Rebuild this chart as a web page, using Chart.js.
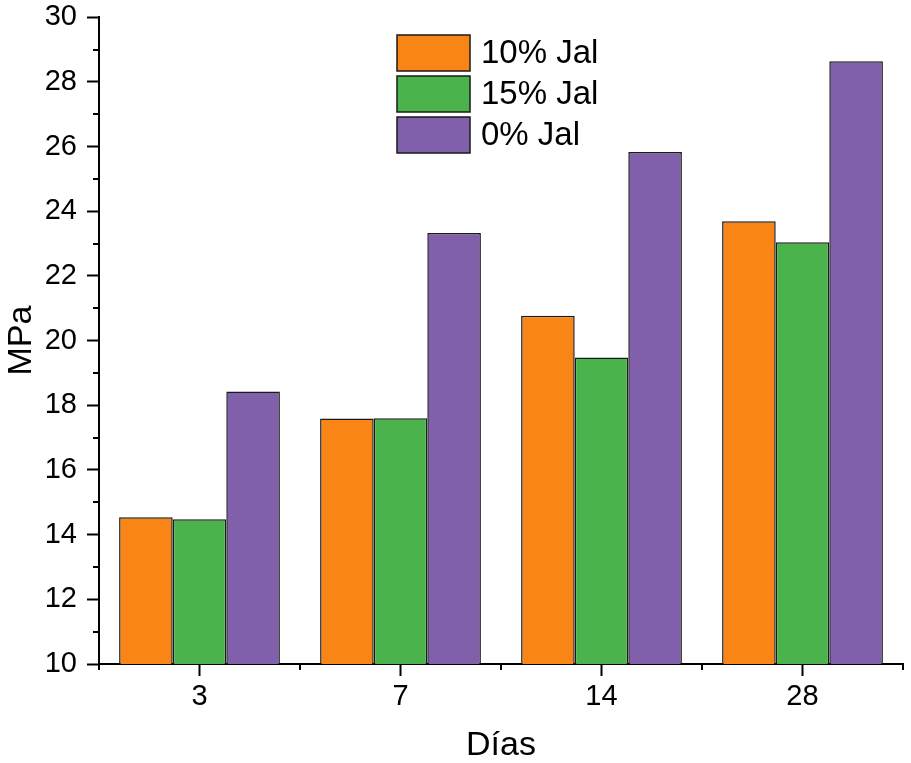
<!DOCTYPE html>
<html>
<head>
<meta charset="utf-8">
<script src="https://cdn.jsdelivr.net/npm/chart.js@4/dist/chart.umd.min.js"></script>
<style>
  html, body { margin: 0; padding: 0; background: #fff; }
  #wrap { width: 911px; height: 763px; }
</style>
</head>
<body>
<div id="wrap"><canvas id="mpaChart"></canvas></div>
<script>
// Data
const dias = ['3', '7', '14', '28'];
const jal10 = [14.54, 17.59, 20.77, 23.69];
const jal15 = [14.48, 17.60, 19.48, 23.04];
const jal0 = [18.43, 23.33, 25.83, 28.64];
const yTicks = [10, 12, 14, 16, 18, 20, 22, 24, 26, 28, 30];

const fontFam = "'Liberation Sans', Arial, sans-serif";

// minor ticks on both axes (odd values on y, group edges on x)
const minorTicks = {
    id: 'minorTicks',
    afterDraw(chart) {
        const ctx = chart.ctx;
        const x = chart.scales.x;
        const y = chart.scales.y;
        ctx.save();
        ctx.strokeStyle = '#000';
        ctx.lineWidth = 2;
        ctx.beginPath();
        for (let v = yTicks[0] + 1; v < yTicks[yTicks.length - 1]; v += 2) {
            const py = Math.round(y.getPixelForValue(v));
            ctx.moveTo(x.left - 6, py);
            ctx.lineTo(x.left, py);
        }
        const n = dias.length;
        const step = (x.right - x.left) / n;
        for (let i = 0; i <= n; i++) {
            const px = Math.round(x.left + i * step);
            ctx.moveTo(px, y.bottom);
            ctx.lineTo(px, y.bottom + 6);
        }
        ctx.stroke();
        ctx.restore();
    }
};

// legend drawn inside the plot area
const boxLegend = {
    id: 'boxLegend',
    afterDraw(chart) {
        const ctx = chart.ctx;
        ctx.save();
        ctx.font = '33px ' + fontFam;
        ctx.textBaseline = 'middle';
        chart.data.datasets.forEach((ds, i) => {
            const top = 35 + i * 41;
            ctx.fillStyle = ds.backgroundColor;
            ctx.fillRect(397, top, 73, 36);
            ctx.strokeStyle = '#1a1a1a';
            ctx.lineWidth = 1.5;
            ctx.strokeRect(397, top, 73, 36);
            ctx.fillStyle = '#000';
            ctx.fillText(ds.label, 481, top + 19);
        });
        ctx.restore();
    }
};

const ctx = document.getElementById('mpaChart').getContext('2d');
const chart = new Chart(ctx, {
    type: 'bar',
    data: {
        labels: dias,
        datasets: [{
            label: '10% Jal',
            data: jal10,
            backgroundColor: '#F98517',
            borderColor: '#1a1a1a',
            borderWidth: 1.5,
        }, {
            label: '15% Jal',
            data: jal15,
            backgroundColor: '#4BB34B',
            borderColor: '#1a1a1a',
            borderWidth: 1.5,
        }, {
            label: '0% Jal',
            data: jal0,
            backgroundColor: '#8060AA',
            borderColor: '#1a1a1a',
            borderWidth: 1.5,
        }],
    },
    options: {
        responsive: true,
        maintainAspectRatio: false,
        animation: false,
        layout: { padding: { top: 7, right: 8, left: 0, bottom: 0 } },
        plugins: {
            legend: { display: false },
            tooltip: { enabled: false },
        },
        datasets: {
            bar: { categoryPercentage: 0.8, barPercentage: 1.0 },
        },
        scales: {
            x: {
                offset: true,
                grid: {
                    offset: false,
                    drawOnChartArea: false,
                    drawTicks: true,
                    tickLength: 12,
                    tickWidth: 2,
                    tickColor: '#000',
                },
                border: { display: true, color: '#000', width: 2 },
                ticks: {
                    color: '#000',
                    padding: 4,
                    font: { family: fontFam, size: 29 },
                    maxRotation: 0,
                },
                title: {
                    display: true,
                    text: 'Días',
                    color: '#000',
                    font: { family: fontFam, size: 34, lineHeight: 1 },
                    padding: { top: 0, bottom: 0 },
                },
                afterFit(scale) { scale.height = 99; },
            },
            y: {
                min: 10,
                max: 30,
                grid: {
                    drawOnChartArea: false,
                    drawTicks: true,
                    tickLength: 12,
                    tickWidth: 2,
                    tickColor: '#000',
                },
                border: { display: true, color: '#000', width: 2 },
                afterBuildTicks(scale) {
                    scale.ticks = yTicks.map(v => ({ value: v }));
                },
                ticks: {
                    color: '#000',
                    padding: 10,
                    font: { family: fontFam, size: 29, lineHeight: 0.5 },
                },
                title: {
                    display: true,
                    text: 'MPa',
                    color: '#000',
                    font: { family: fontFam, size: 34, lineHeight: 1 },
                    padding: { top: 5, bottom: 0 },
                },
                afterFit(scale) { scale.width = 99; },
            },
        },
    },
    plugins: [minorTicks, boxLegend],
});
</script>
</body>
</html>
